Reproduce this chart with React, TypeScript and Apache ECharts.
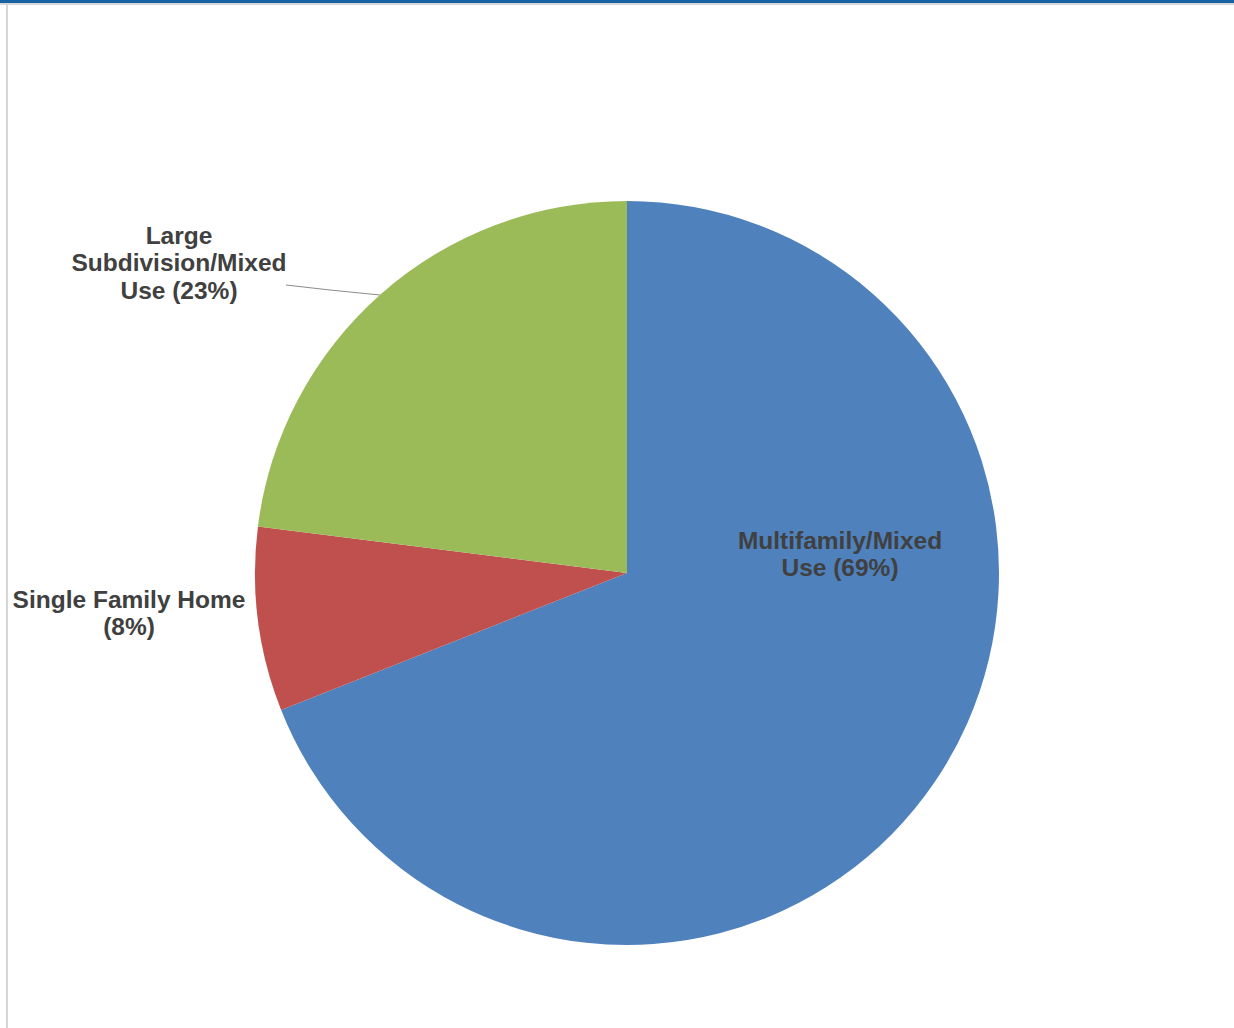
import React, { useEffect, useRef } from "react";
import * as echarts from "echarts";

const categories = ["Multifamily/Mixed Use", "Single Family Home", "Large Subdivision/Mixed Use"];
const shares = [69, 8, 23];
const labelLines = [
  ["Multifamily/Mixed", "Use"],
  ["Single Family Home"],
  ["Large", "Subdivision/Mixed", "Use"],
];
const colors = ["#4F81BD", "#C0504D", "#9BBB59"];

export default function App() {
  const ref = useRef<HTMLDivElement>(null);
  useEffect(() => {
    if (!ref.current) return;
    const chart = echarts.init(ref.current, null, { renderer: "svg" });
    const labelPos = [
      { x: 840, y: 554 },
      { x: 129, y: 613 },
      { x: 179, y: 262.5 },
    ];
    chart.setOption({
      animation: false,
      backgroundColor: "#ffffff",
      graphic: [
        { type: "rect", shape: { x: 0, y: 0, width: 1234, height: 3 }, style: { fill: "#1563A6" }, silent: true },
        { type: "rect", shape: { x: 0, y: 3, width: 1234, height: 2 }, style: { fill: "#d8d8d8" }, silent: true },
        { type: "rect", shape: { x: 6, y: 3, width: 2, height: 1025 }, style: { fill: "#d6d6d6" }, silent: true },
      ],
      series: [
        {
          type: "pie",
          center: [627, 573],
          radius: [0, 372],
          startAngle: 90,
          clockwise: true,
          avoidLabelOverlap: false,
          itemStyle: { borderWidth: 0 },
          emphasis: { disabled: true },
          label: {
            show: true,
            position: "outside",
            color: "#404040",
            fontFamily: "Liberation Sans, Arial, sans-serif",
            fontWeight: "bold",
            fontSize: 24.5,
            lineHeight: 27.5,
            align: "center",
            formatter: (p: any) => {
              const lines = labelLines[p.dataIndex].slice();
              const pct = "(" + p.value + "%)";
              if (lines.length === 1) lines.push(pct);
              else lines[lines.length - 1] = lines[lines.length - 1] + " " + pct;
              return lines.join("\n");
            },
          },
          labelLine: { show: true, lineStyle: { color: "#8c8c8c", width: 1.2 } },
          labelLayout: (params: any) => {
            const i = params.dataIndex;
            const res: any = {
              x: labelPos[i].x,
              y: labelPos[i].y,
              align: "center",
              verticalAlign: "middle",
            };
            if (i === 2) {
              res.labelLinePoints = [
                [380, 295],
                [330, 290],
                [286, 285],
              ];
            }
            return res;
          },
          data: categories.map((name, i) => ({
            name,
            value: shares[i],
            itemStyle: { color: colors[i] },
            labelLine: { show: i === 2 },
          })),
        },
      ],
    });
    return () => chart.dispose();
  }, []);
  return (
    <div
      ref={ref}
      style={{ position: "fixed", left: 0, top: 0, width: 1234, height: 1028 }}
    />
  );
}
